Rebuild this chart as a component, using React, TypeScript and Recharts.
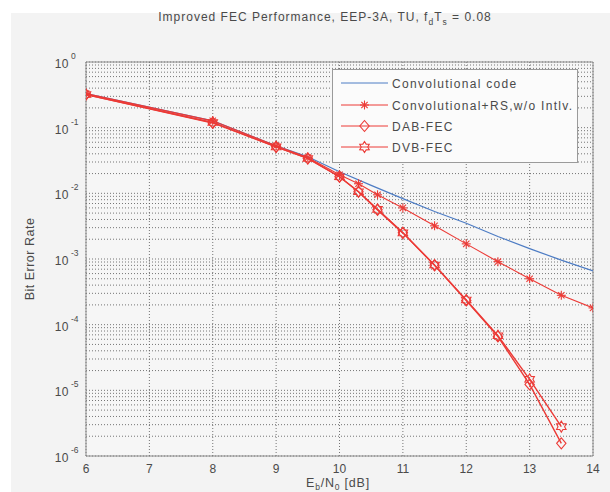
import React from 'react';
import { LineChart, Line, XAxis, YAxis, CartesianGrid, ReferenceArea } from 'recharts';

// ---- data ----
const snrRed = [6, 8, 9, 9.5, 10, 10.3, 10.6, 11, 11.5, 12, 12.5, 13, 13.5, 14];
const convRS = [0.33, 0.127, 0.053, 0.035, 0.0192, 0.014, 0.0095, 0.006, 0.0032, 0.0017, 0.00091, 0.0005, 0.00028, 0.00018];
const dabFec = [0.32, 0.118, 0.051, 0.034, 0.0179, 0.0106, 0.0056, 0.0025, 0.0008, 0.000234, 0.000066, 0.0000123, 0.00000156, null];
const dvbFec = [0.32, 0.12, 0.051, 0.034, 0.0179, 0.0106, 0.0057, 0.0025, 0.00081, 0.000238, 0.000068, 0.0000147, 0.0000028, null];
const snrConv = [6, 8, 9, 9.5, 10, 10.5, 11, 11.5, 12, 12.5, 13, 13.5, 14];
const convCode = [0.33, 0.127, 0.053, 0.036, 0.0213, 0.0132, 0.0083, 0.0053, 0.0035, 0.0022, 0.00144, 0.00096, 0.00066];

const xTicks = [6, 7, 8, 9, 10, 11, 12, 13, 14];
const yDecades = [1e-6, 1e-5, 1e-4, 1e-3, 1e-2, 1e-1, 1];
const yMantissas = [1, 2, 3, 4, 5, 6, 7, 8, 9];
const yTicks = yDecades.flatMap((d) => (d === 1 ? [1] : yMantissas.map((m) => +(m * d).toPrecision(3))));

const seriesNames = ['Convolutional code', 'Convolutional+RS,w/o Intlv.', 'DAB-FEC', 'DVB-FEC'];

const toPoints = (xs: number[], ys: (number | null)[]) =>
  xs.map((x, i) => ({ x, y: ys[i] })).filter((p) => p.y !== null && p.y !== undefined);

const RED = '#ec3a36';
const BLUE = '#4d7cc4';
const FONT = '"Liberation Sans", Arial, Helvetica, sans-serif';

// ---- markers ----
const Asterisk = ({ cx, cy, r = 4.5, color = RED }: any) => {
  const d = r * 0.707;
  return (
    <g stroke={color} strokeWidth={1.1} fill="none">
      <line x1={cx - r} y1={cy} x2={cx + r} y2={cy} />
      <line x1={cx} y1={cy - r} x2={cx} y2={cy + r} />
      <line x1={cx - d} y1={cy - d} x2={cx + d} y2={cy + d} />
      <line x1={cx - d} y1={cy + d} x2={cx + d} y2={cy - d} />
    </g>
  );
};

const Diamond = ({ cx, cy, r = 5.5, color = RED }: any) => (
  <polygon
    points={`${cx},${cy - r} ${cx + r * 0.85},${cy} ${cx},${cy + r} ${cx - r * 0.85},${cy}`}
    fill="none"
    stroke={color}
    strokeWidth={1.1}
  />
);

const Hexagram = ({ cx, cy, r = 5.5, color = RED }: any) => {
  const pts: string[] = [];
  for (let i = 0; i < 12; i++) {
    const a = (Math.PI / 6) * i - Math.PI / 2;
    const rr = i % 2 === 0 ? r : r * 0.6;
    pts.push(`${cx + rr * Math.cos(a)},${cy + rr * Math.sin(a)}`);
  }
  return <polygon points={pts.join(' ')} fill="none" stroke={color} strokeWidth={1.1} />;
};

const dotRenderer = (Comp: any) => (props: any) => {
  const { cx, cy, index } = props;
  if (cx == null || cy == null || isNaN(cy)) return <g key={`e${index}`} />;
  return <Comp key={`m${index}`} cx={cx} cy={cy} />;
};

// ---- ticks ----
const isDecade = (v: number) => {
  const e = Math.round(Math.log10(v));
  return Math.abs(v - Math.pow(10, e)) / v < 1e-6;
};

const YTick = (props: any) => {
  const { y, payload } = props;
  const v = payload.value;
  if (!isDecade(v)) return <g />;
  const e = Math.round(Math.log10(v));
  return (
    <g fontFamily={FONT} fill="#4a4a4a">
      <text x={69} y={y + 6} textAnchor="end" fontSize={12} letterSpacing={0.5}>10</text>
      <text x={71} y={y - 3} textAnchor="start" fontSize={8.5}>{e}</text>
    </g>
  );
};

const XTick = (props: any) => {
  const { x, payload } = props;
  return (
    <text x={x} y={473} textAnchor="middle" fontSize={12} fontFamily={FONT} fill="#4a4a4a">
      {payload.value}
    </text>
  );
};

const LegendBox = () => {
  const rows = [
    { name: seriesNames[0], color: BLUE, M: null },
    { name: seriesNames[1], color: RED, M: Asterisk },
    { name: seriesNames[2], color: RED, M: Diamond },
    { name: seriesNames[3], color: RED, M: Hexagram },
  ];
  const ys = [14, 36, 57, 78];
  return (
    <div
      style={{
        position: 'absolute',
        left: 332,
        top: 69,
        width: 246,
        height: 94,
        background: '#fbfbfb',
        border: '1px solid #9a9a9a',
        boxSizing: 'border-box',
      }}
    >
      <svg width={246} height={94} style={{ position: 'absolute', left: -1, top: -1 }}>
        {rows.map((r, i) => (
          <g key={r.name}>
            <line x1={9} x2={56} y1={ys[i]} y2={ys[i]} stroke={r.color} strokeWidth={1} />
            {r.M ? <r.M cx={32.5} cy={ys[i]} color={r.color} /> : null}
            <text
              x={60}
              y={ys[i] + 4.5}
              fontSize={12}
              fontFamily={FONT}
              fill="#4a4a4a"
              letterSpacing={1.3}
            >
              {r.name}
            </text>
          </g>
        ))}
      </svg>
    </div>
  );
};

export default function App() {
  return (
    <div style={{ position: 'absolute', left: 0, top: 0, width: 610, height: 492, background: '#ffffff', overflow: 'hidden' }}>
      <div style={{ position: 'absolute', left: 11, top: 13, width: 599, height: 479, background: '#f3f3f3' }} />
      <div style={{ position: 'absolute', left: 0, top: 0 }}>
        <LineChart width={610} height={492} margin={{ top: 62, right: 17, left: 0, bottom: 0 }}>
          <CartesianGrid
            stroke="#555"
            strokeDasharray="1 2"
            strokeOpacity={0.8}
            fill="#f6f6f6"
            fillOpacity={1}
          />
          <XAxis
            dataKey="x"
            type="number"
            domain={[6, 14]}
            ticks={xTicks}
            allowDataOverflow
            height={36}
            tickLine={false}
            axisLine={false}
            tick={<XTick />}
          />
          <YAxis
            dataKey="y"
            type="number"
            scale="log"
            domain={[1e-6, 1]}
            ticks={yTicks}
            allowDataOverflow
            width={86}
            tickLine={false}
            axisLine={false}
            interval={0}
            tick={<YTick />}
          />
          <ReferenceArea x1={6} x2={14} y1={1e-6} y2={1} fill="none" stroke="#8a8a8a" strokeWidth={1} ifOverflow="visible" />
          <Line
            data={toPoints(snrConv, convCode)}
            dataKey="y"
            type="linear"
            stroke={BLUE}
            strokeWidth={1.2}
            dot={false}
            isAnimationActive={false}
          />
          <Line
            data={toPoints(snrRed, convRS)}
            dataKey="y"
            type="linear"
            stroke={RED}
            strokeWidth={1.1}
            dot={dotRenderer(Asterisk)}
            isAnimationActive={false}
          />
          <Line
            data={toPoints(snrRed, dabFec)}
            dataKey="y"
            type="linear"
            stroke={RED}
            strokeWidth={1.4}
            dot={dotRenderer(Diamond)}
            isAnimationActive={false}
          />
          <Line
            data={toPoints(snrRed, dvbFec)}
            dataKey="y"
            type="linear"
            stroke={RED}
            strokeWidth={1.4}
            dot={dotRenderer(Hexagram)}
            isAnimationActive={false}
          />
        </LineChart>
      </div>
      <svg width={610} height={492} style={{ position: 'absolute', left: 0, top: 0, pointerEvents: 'none' }}>
        <text x={325} y={21} textAnchor="middle" fontSize={12} fontFamily={FONT} fill="#4a4a4a" letterSpacing={1}>
          Improved FEC Performance, EEP-3A, TU, f
          <tspan fontSize={8.5} dy={4}>d</tspan>
          <tspan dy={-4}>T</tspan>
          <tspan fontSize={8.5} dy={4}>s</tspan>
          <tspan dy={-4}> = 0.08</tspan>
        </text>
        <text
          x={34}
          y={259}
          textAnchor="middle"
          fontSize={12.5}
          fontFamily={FONT}
          fill="#4a4a4a"
          letterSpacing={0.5}
          transform="rotate(-90 34 259)"
        >
          Bit Error Rate
        </text>
        <text x={338} y={487} textAnchor="middle" fontSize={12.5} fontFamily={FONT} fill="#4a4a4a" letterSpacing={0.8}>
          E
          <tspan fontSize={8.5} dy={3}>b</tspan>
          <tspan dy={-3}>/N</tspan>
          <tspan fontSize={8.5} dy={3}>0</tspan>
          <tspan dy={-3}> [dB]</tspan>
        </text>
      </svg>
      <LegendBox />
    </div>
  );
}
